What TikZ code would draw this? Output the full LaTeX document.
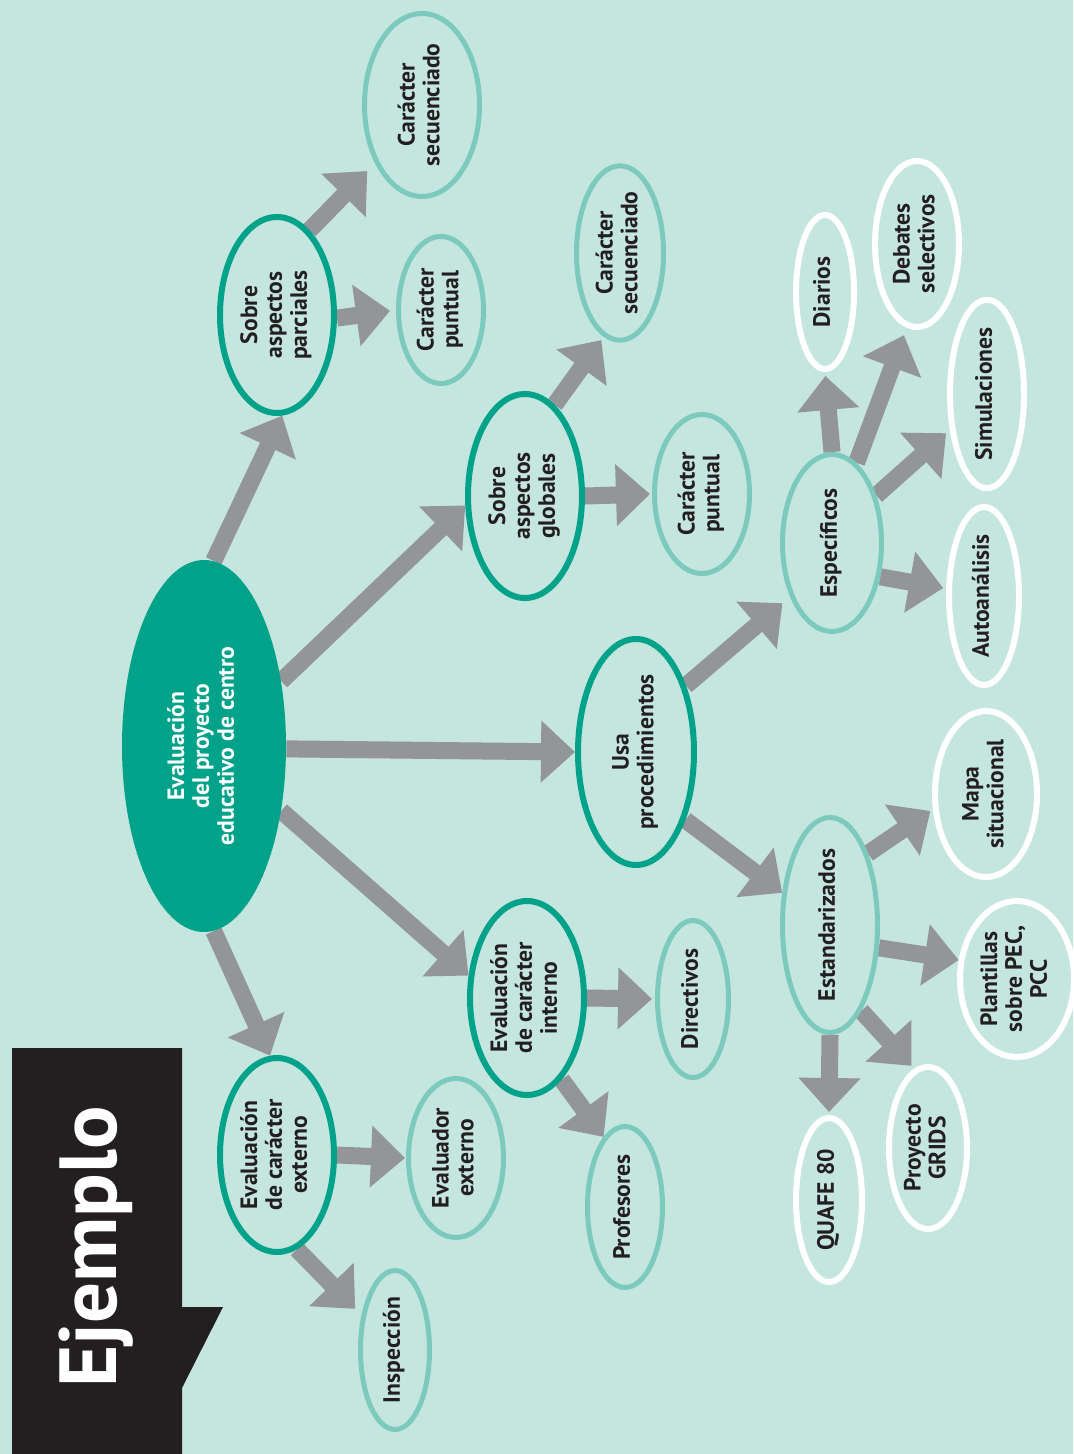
\documentclass[tikz,border=0pt]{standalone}
\usepackage{fontspec}
\setmainfont{PT Sans}
\usepackage{graphicx}
\usetikzlibrary{%
  shapes.geometric,
  arrows.meta,
  backgrounds,
}

\definecolor{fondo}{HTML}{C5E5DF}
\definecolor{verdeosc}{HTML}{00A389}
\definecolor{verdecla}{HTML}{7CCABC}
\definecolor{grisflecha}{HTML}{939598}
\definecolor{negro}{HTML}{231F20}

% texto vertical en varias lineas
\newcommand{\vtxt}[1]{\rotatebox{90}{\begin{tabular}{@{}c@{}}#1\end{tabular}}}

\begin{document}
\begin{tikzpicture}[x=0.5pt, y=-0.5pt,
    every node/.style={font={\fontsize{11.8}{12.4}\selectfont\bfseries},
      text=negro, inner sep=0pt},
    sz/.style 2 args={minimum width=#1pt, minimum height=#2pt},
    nucleo/.style={ellipse, fill=verdeosc, text=white},
    oscuro/.style={ellipse, draw=verdeosc, line width=3pt},
    claro/.style={ellipse, draw=verdecla, line width=2.5pt},
    blanco/.style={ellipse, draw=white, line width=3pt},
    flecha/.style={draw=grisflecha, line width=8.5pt,
      -{Triangle[length=17pt, width=30pt]}},
  ]
        % 1 px de la imagen = 0.5pt
        \useasboundingbox (0,0) rectangle (1073,1454);

        % Ejemplo
        \fill[negro] (12,1048) -- (182,1048) -- (182,1307)
          -- (223,1307) -- (182,1388) -- (182,1454)
          -- (12,1454) -- cycle;
        \node[rotate=90, anchor=base, text=white,
          font={\fontsize{40.5}{42}\selectfont\bfseries}]
          (ejemplo) at (116,1247) {Ejemplo};

        \node[nucleo, sz={82}{186}] (evalpec) at (204,746)
          {\vtxt{Evaluación\\del proyecto\\educativo de centro}};

        \node[oscuro, sz={57}{98}] (parcial) at (277,315)
          {\vtxt{Sobre\\aspectos\\parciales}};
        \node[claro, sz={57.5}{91.5}] (secA) at (422,105)
          {\vtxt{Carácter\\secuenciado}};
        \node[claro, sz={42.5}{73.5}] (puntA) at (441,310)
          {\vtxt{Carácter\\puntual}};

        \node[oscuro, sz={57}{102}] (global) at (525,496)
          {\vtxt{Sobre\\aspectos\\globales}};
        \node[claro, sz={43.5}{85.5}] (secB) at (620,253)
          {\vtxt{Carácter\\secuenciado}};
        \node[claro, sz={47.5}{79.5}] (puntB) at (702,494)
          {\vtxt{Carácter\\puntual}};

        \node[oscuro, sz={58}{113}] (usaproc) at (636,752)
          {\vtxt{Usa\\procedimientos}};

        \node[claro, sz={49.5}{88.5}] (especif) at (832,543)
          {\vtxt{Específicos}};
        \node[blanco, sz={29}{77}] (diarios) at (825,292)
          {\vtxt{Diarios}};
        \node[blanco, sz={42}{83}] (debates) at (917,244)
          {\vtxt{Debates\\selectivos}};
        \node[blanco, sz={37}{91}] (simul) at (987,394)
          {\vtxt{Simulaciones}};
        \node[blanco, sz={35}{89}] (autoan) at (984,596)
          {\vtxt{Autoanálisis}};

        \node[claro, sz={47.5}{107.5}] (estand) at (830,925)
          {\vtxt{Estandarizados}};
        \node[blanco, sz={51}{83}] (mapa) at (986,794)
          {\vtxt{Mapa\\situacional}};
        \node[blanco, sz={57}{78}] (plantil) at (1017,979)
          {\vtxt{Plantillas\\sobre PEC,\\PCC}};
        \node[blanco, sz={39}{81}] (grids) at (928,1148)
          {\vtxt{Proyecto\\GRIDS}};
        \node[blanco, sz={33}{82}] (quafe) at (829,1200)
          {\vtxt{QUAFE 80}};

        \node[oscuro, sz={57}{97}] (interno) at (527,998)
          {\vtxt{Evaluación\\de carácter\\interno}};
        \node[claro, sz={35.5}{78.5}] (directiv) at (693,999)
          {\vtxt{Directivos}};
        \node[claro, sz={37.5}{80.5}] (profes) at (625,1207)
          {\vtxt{Profesores}};

        \node[oscuro, sz={57}{97}] (externo) at (277,1155)
          {\vtxt{Evaluación\\de carácter\\externo}};
        \node[claro, sz={47.5}{79.5}] (evalext) at (456,1158)
          {\vtxt{Evaluador\\externo}};
        \node[claro, sz={34.5}{79.5}] (inspec) at (395,1350)
          {\vtxt{Inspección}};

        \begin{scope}[on background layer]
          \fill[fondo] (0,0) rectangle (1073,1454);

          \draw[flecha] (evalpec.87) -- (parcial.-87);
          \draw[flecha] (evalpec.40) -- (global.189);
          \draw[flecha] (evalpec.-2) -- (usaproc.180);
          \draw[flecha] (evalpec.-40) -- (interno.159);
          \draw[flecha] (evalpec.-87) -- (externo.94);

          \draw[flecha, shorten >=5.5pt] (parcial.69) -- (secA.231);
          \draw[flecha, shorten >=3pt] (parcial.-3) -- (puntA.180);
          \draw[flecha, shorten >=2pt] (global.72) -- (secB.259);
          \draw[flecha, shorten >=1pt] (global.east) -- (puntB.west);

          \draw[flecha, shorten >=5pt] (usaproc.53) -- (especif.232);
          \draw[flecha] (usaproc.-54) -- (estand.146);

          \draw[flecha, shorten >=2pt] (especif.north) -- (diarios.south);
          \draw[flecha, shorten >=4pt] (especif.73) -- (debates.263);
          \draw[flecha, shorten >=2.5pt] (especif.47) -- (simul.224);
          \draw[flecha, shorten >=1.5pt] (especif.-35) -- (autoan.169);

          \draw[flecha, shorten >=1.5pt] (estand.62) -- (mapa.196);
          \draw[flecha] (estand.-25) -- (plantil.162);
          \draw[flecha, shorten >=2pt] (estand.-70) -- (grids.100);
          \draw[flecha, shorten >=1.5pt] (estand.south) -- (quafe.north);

          \draw[flecha, shorten >=1.5pt] (interno.east) -- (directiv.west);
          \draw[flecha] (interno.-67) -- (profes.107);

          \draw[flecha, shorten >=0.5pt] (externo.east) -- (evalext.west);
          \draw[flecha, shorten >=4.5pt] (externo.-78) -- (inspec.134);
        \end{scope}
\end{tikzpicture}
\end{document}
